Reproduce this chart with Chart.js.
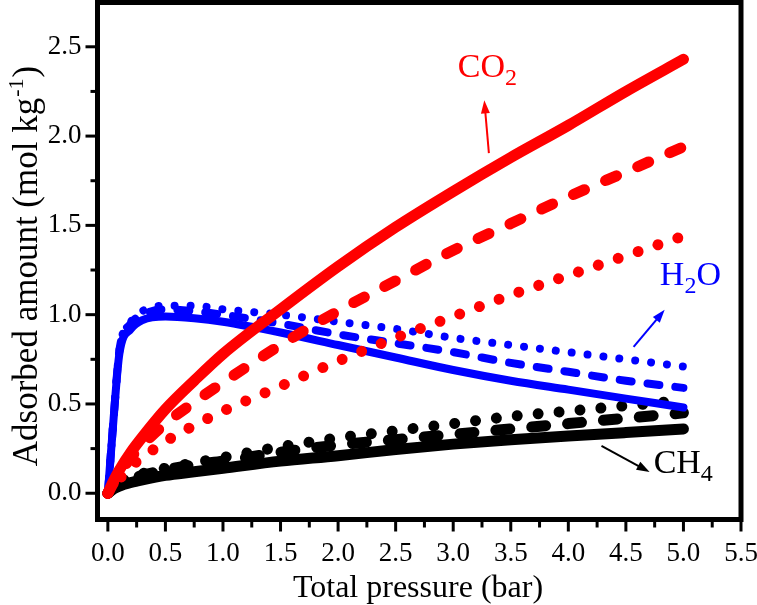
<!DOCTYPE html>
<html>
<head>
<meta charset="utf-8">
<script src="https://cdn.jsdelivr.net/npm/chart.js@4/dist/chart.umd.min.js"></script>
<style>
    body { margin: 0; background: #fff; }
    canvas { display: block; }
</style>
</head>
<body>
<canvas id="chart" width="757" height="605"></canvas>
<script>
// total pressure (bar), shared by every curve
const pressure = [0, 0.05, 0.1, 0.2, 0.3, 0.5, 0.75, 1.0, 1.5, 2.0, 2.5, 3.0, 3.5, 4.0, 4.5, 5.0];

// adsorbed amount (mol/kg)
const co2Solid = [0, 0.07, 0.13, 0.23, 0.315, 0.47, 0.63, 0.78, 1.03, 1.27, 1.49, 1.69, 1.88, 2.06, 2.25, 2.43];
const co2Dash  = [0, 0.06, 0.11, 0.20, 0.27, 0.39, 0.51, 0.62, 0.83, 1.02, 1.19, 1.36, 1.51, 1.66, 1.80, 1.94];
const co2Dot   = [0, 0.04, 0.08, 0.15, 0.20, 0.29, 0.38, 0.46, 0.60, 0.74, 0.87, 0.99, 1.11, 1.22, 1.33, 1.44];

const h2oSolid = [0, 0.42, 0.78, 0.92, 0.97, 0.99, 0.98, 0.96, 0.90, 0.83, 0.76, 0.69, 0.63, 0.58, 0.53, 0.48];
const h2oDash  = [0, 0.42, 0.80, 0.95, 1.00, 1.03, 1.02, 1.00, 0.95, 0.89, 0.84, 0.79, 0.73, 0.68, 0.63, 0.59];
const h2oDot   = [0, 0.42, 0.80, 0.96, 1.02, 1.05, 1.05, 1.03, 1.00, 0.96, 0.92, 0.87, 0.83, 0.79, 0.75, 0.71];

const ch4Solid = [0, 0.025, 0.04, 0.06, 0.075, 0.10, 0.12, 0.14, 0.18, 0.21, 0.245, 0.275, 0.30, 0.32, 0.34, 0.36];
const ch4Dash  = [0, 0.03, 0.05, 0.08, 0.10, 0.13, 0.16, 0.18, 0.23, 0.27, 0.30, 0.33, 0.36, 0.39, 0.42, 0.45];
const ch4Dot   = [0, 0.035, 0.06, 0.09, 0.11, 0.14, 0.17, 0.20, 0.26, 0.31, 0.35, 0.39, 0.43, 0.46, 0.49, 0.52];

const xTicks = [0, 0.5, 1.0, 1.5, 2.0, 2.5, 3.0, 3.5, 4.0, 4.5, 5.0, 5.5];
const yTicks = [0, 0.5, 1.0, 1.5, 2.0, 2.5];

// gas labels: text, subscript, colour, label position, arrow tail, arrow tip (data units)
const gasLabels = [
    { main: 'CO', sub: '2', color: '#ff0000', at: [3.04, 2.33], from: [3.31, 1.905], to: [3.27, 2.20] },
    { main: 'H',  sub: '2', tail: 'O', color: '#0000ff', at: [4.795, 1.167], from: [4.567, 0.82], to: [4.837, 1.027] },
    { main: 'CH', sub: '4', color: '#000000', at: [4.741, 0.114], from: [4.288, 0.265], to: [4.706, 0.119] }
];

const FONT = '"Liberation Serif", "Times New Roman", serif';

function toPoints(ys) {
    return pressure.map((p, i) => ({ x: p, y: ys[i] }));
}

function curve(ys, color, width, dash) {
    return {
        data: toPoints(ys),
        borderColor: color,
        backgroundColor: color,
        borderWidth: width,
        borderDash: dash,
        borderCapStyle: 'round',
        borderJoinStyle: 'round',
        pointRadius: 0,
        cubicInterpolationMode: 'monotone',
        fill: false
    };
}

function arrow(ctx, x1, y1, x2, y2, color) {
    const ang = Math.atan2(y2 - y1, x2 - x1);
    const head = 13;
    ctx.strokeStyle = color;
    ctx.fillStyle = color;
    ctx.lineWidth = 2;
    ctx.beginPath();
    ctx.moveTo(x1, y1);
    ctx.lineTo(x2 - Math.cos(ang) * head * 0.8, y2 - Math.sin(ang) * head * 0.8);
    ctx.stroke();
    ctx.beginPath();
    ctx.moveTo(x2, y2);
    ctx.lineTo(x2 - head * Math.cos(ang) + 4.5 * Math.sin(ang), y2 - head * Math.sin(ang) - 4.5 * Math.cos(ang));
    ctx.lineTo(x2 - head * Math.cos(ang) - 4.5 * Math.sin(ang), y2 - head * Math.sin(ang) + 4.5 * Math.cos(ang));
    ctx.closePath();
    ctx.fill();
}

// fixed axis sizes, and no extra room for overhanging tick labels
function fixSize(s, w, h) {
    if (w) s.width = w;
    if (h) s.height = h;
    s.paddingTop = 0;
    s.paddingBottom = 0;
    s.paddingLeft = 0;
    s.paddingRight = 0;
}

const frame = {
    id: 'frame',
    afterDraw(chart) {
        const ctx = chart.ctx;
        const a = chart.chartArea;
        const xs = chart.scales.x;
        const ys = chart.scales.y;
        ctx.save();

        // minor + major tick marks, outward
        ctx.strokeStyle = '#000';
        ctx.lineWidth = 3;
        for (let v = 0; v <= 5.5 + 1e-9; v += 0.25) {
            const px = xs.getPixelForValue(v);
            const major = Math.abs(v * 2 - Math.round(v * 2)) < 1e-6;
            ctx.beginPath();
            ctx.moveTo(px, a.bottom);
            ctx.lineTo(px, a.bottom + (major ? 12 : 8));
            ctx.stroke();
        }
        for (let v = 0; v <= 2.5 + 1e-9; v += 0.25) {
            const py = ys.getPixelForValue(v);
            const major = Math.abs(v * 2 - Math.round(v * 2)) < 1e-6;
            ctx.beginPath();
            ctx.moveTo(a.left, py);
            ctx.lineTo(a.left - (major ? 12 : 7), py);
            ctx.stroke();
        }

        // box
        ctx.lineWidth = 5;
        ctx.strokeRect(a.left, a.top, a.right - a.left, a.bottom - a.top);

        // axis titles
        ctx.fillStyle = '#000';
        ctx.font = '32px ' + FONT;
        ctx.textAlign = 'center';
        ctx.textBaseline = 'alphabetic';
        ctx.fillText('Total pressure (bar)', 418, 597);

        ctx.save();
        ctx.translate(37, 267);
        ctx.rotate(-Math.PI / 2);
        ctx.textAlign = 'left';
        const t1 = 'Adsorbed amount (mol kg';
        const t2 = '-1';
        const t3 = ')';
        ctx.font = '35px ' + FONT;
        const w1 = ctx.measureText(t1).width;
        const w3 = ctx.measureText(t3).width;
        ctx.font = '22px ' + FONT;
        const w2 = ctx.measureText(t2).width;
        let x0 = -(w1 + w2 + w3) / 2;
        ctx.font = '35px ' + FONT;
        ctx.fillText(t1, x0, 0);
        ctx.font = '22px ' + FONT;
        ctx.fillText(t2, x0 + w1 + 1, -14);
        ctx.font = '35px ' + FONT;
        ctx.fillText(t3, x0 + w1 + w2 + 2, 0);
        ctx.restore();

        // gas labels with arrows
        gasLabels.forEach(g => {
            const lx = xs.getPixelForValue(g.at[0]);
            const ly = ys.getPixelForValue(g.at[1]);
            ctx.fillStyle = g.color;
            ctx.textAlign = 'left';
            ctx.font = '34px ' + FONT;
            ctx.fillText(g.main, lx, ly);
            let w = ctx.measureText(g.main).width;
            ctx.font = '24px ' + FONT;
            ctx.fillText(g.sub, lx + w, ly + 8);
            w += ctx.measureText(g.sub).width;
            if (g.tail) {
                ctx.font = '34px ' + FONT;
                ctx.fillText(g.tail, lx + w, ly);
            }
            arrow(ctx,
                xs.getPixelForValue(g.from[0]), ys.getPixelForValue(g.from[1]),
                xs.getPixelForValue(g.to[0]), ys.getPixelForValue(g.to[1]),
                g.color);
        });

        ctx.restore();
    }
};

const $chart = document.querySelector('#chart');
const ctx = $chart.getContext('2d');

new Chart(ctx, {
    type: 'line',
    data: {
        datasets: [
            curve(co2Solid, '#ff0000', 11, []),
            curve(co2Dash, '#ff0000', 11, [12, 23]),
            curve(co2Dot, '#ff0000', 11, [0.001, 21]),
            curve(h2oSolid, '#0000ff', 8, []),
            curve(h2oDash, '#0000ff', 8, [12, 16]),
            curve(h2oDot, '#0000ff', 8, [0.001, 16]),
            curve(ch4Solid, '#000000', 11, []),
            curve(ch4Dash, '#000000', 11, [14, 22]),
            curve(ch4Dot, '#000000', 11, [0.001, 21])
        ]
    },
    options: {
        responsive: false,
        animation: false,
        devicePixelRatio: 1,
        layout: { padding: { left: 0, top: 2.5, right: 16, bottom: 0 } },
        plugins: {
            legend: { display: false },
            tooltip: { enabled: false }
        },
        scales: {
            x: {
                type: 'linear',
                min: -0.09,
                max: 5.5,
                afterBuildTicks: s => { s.ticks = xTicks.map(v => ({ value: v })); },
                afterFit: s => fixSize(s, 0, 85.5),
                grid: { display: false, drawTicks: false },
                border: { display: false },
                ticks: {
                    color: '#000',
                    font: { family: FONT, size: 27 },
                    padding: 18,
                    maxRotation: 0,
                    autoSkip: false,
                    callback: v => Number(v).toFixed(1)
                }
            },
            y: {
                type: 'linear',
                min: -0.147,
                max: 2.748,
                afterBuildTicks: s => { s.ticks = yTicks.map(v => ({ value: v })); },
                afterFit: s => fixSize(s, 97.5, 0),
                grid: { display: false, drawTicks: false },
                border: { display: false },
                ticks: {
                    color: '#000',
                    font: { family: FONT, size: 27 },
                    padding: 16,
                    autoSkip: false,
                    callback: v => Number(v).toFixed(1)
                }
            }
        }
    },
    plugins: [frame]
});
</script>
</body>
</html>
